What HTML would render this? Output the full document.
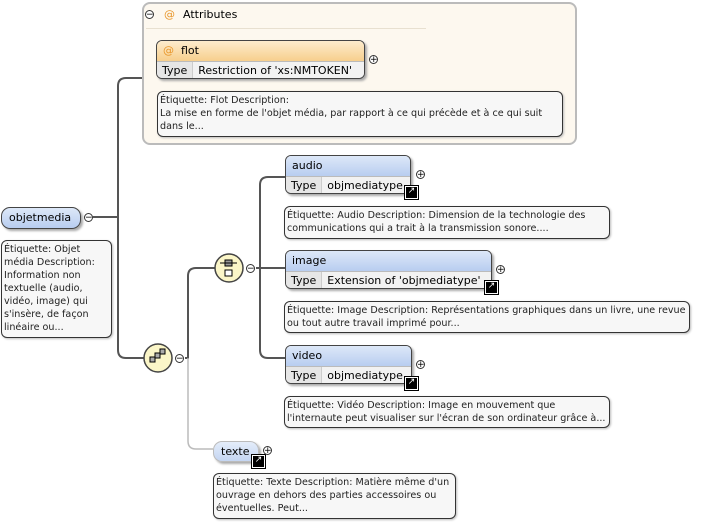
<!DOCTYPE html>
<html><head><meta charset="utf-8"><style>
body{margin:0;width:713px;height:522px;background:#fff;position:relative;overflow:hidden;font-family:"DejaVu Sans","Liberation Sans",sans-serif;font-size:11px;color:#000}
.a{position:absolute;box-sizing:border-box}
.tip{position:absolute;box-sizing:border-box;border:1px solid #333;border-radius:6px;background:#f7f7f7;font-size:9.6px;line-height:13px;padding:2px 2px;color:#222;box-shadow:1px 1px 2px #bbb}
.el{position:absolute;box-sizing:border-box;border:1px solid #444;border-radius:6px;background:#fff;overflow:hidden;box-shadow:2px 2px 2px #aaa}
.hd{height:20px;background:linear-gradient(#dde8f8,#b8cdf0);padding-left:6px;line-height:19px;border-bottom:1px solid #bbb}
.row{display:flex;height:18px;line-height:17px}
.row .k{background:#e6e6e6;padding:0 5px;border-right:1px solid #ccc}
.row .v{padding:0 5px;background:#f2f2f2;flex:1}
.pm{position:absolute;width:9px;height:9px;border:1px solid #333;border-radius:50%;background:#fff;font-size:9px;line-height:8px;text-align:center;box-sizing:border-box}
.lk{position:absolute;width:11px;height:11px;background:#000;border:1px solid #fff;outline:1px solid #000;color:#fff;font-size:9px;line-height:9px;text-align:center}
</style></head><body>
<svg class="a" style="left:0;top:0" width="713" height="522">
<g fill="none" stroke="#555" stroke-width="2">
<path d="M93 217 H118"/>
<path d="M142 78 H126 Q118 78 118 86 V350 Q118 358 126 358 H144"/>
<path d="M185 358 H188 V276 Q188 268 196 268 H215"/>
<path d="M256 268 H285"/>
<path d="M285 177 H268 Q260 177 260 185 V350 Q260 358 268 358 H285"/>
</g>
<path d="M188 358 V441 Q188 449 196 449 H213" fill="none" stroke="#bbb" stroke-width="1.5"/>
<circle cx="158" cy="358" r="14" fill="#fbf6c8" stroke="#444" stroke-width="1.5"/>
<g stroke="#000" fill="#aaa" stroke-width="1"><rect x="150" y="357" width="5" height="5"/><rect x="155" y="353" width="5" height="5"/><rect x="160" y="349" width="5" height="5"/></g>
<circle cx="229" cy="268" r="14" fill="#fbf6c8" stroke="#444" stroke-width="1.5"/>
<g stroke="#000" stroke-width="1"><rect x="225" y="260" width="7" height="6" fill="#999"/><rect x="225" y="270" width="7" height="6" fill="#fff"/><path d="M220 263 H237"/></g>
</svg>

<div class="a" style="left:142px;top:2px;width:435px;height:143px;border:2px solid #bbb;border-radius:8px;background:#fdf8ef"></div>
<div class="pm" style="left:145px;top:10px">−</div>
<div class="a" style="left:164px;top:8px;color:#e8962a">@</div>
<div class="a" style="left:183px;top:8px">Attributes</div>
<div class="a" style="left:146px;top:28px;width:280px;height:1px;background:#e8e0d0"></div>

<div class="el" style="left:156px;top:40px;width:209px;height:39px">
<div class="hd" style="background:linear-gradient(#fdeccd,#f7cf8d)"><span style="color:#e8962a">@</span>&nbsp;&nbsp;flot</div>
<div class="row"><span class="k">Type</span><span class="v">Restriction of 'xs:NMTOKEN'</span></div></div>
<div class="pm" style="left:369px;top:55px">+</div>
<div class="tip" style="left:157px;top:91px;width:406px;height:46px">Étiquette: Flot Description:<br>La mise en forme de l'objet média, par rapport à ce qui précède et à ce qui suit dans le...</div>

<div class="el" style="left:1px;top:207px;width:80px;height:22px;border-radius:9px;background:linear-gradient(#dde8f8,#b8cdf0);line-height:20px;padding-left:7px">objetmedia</div>
<div class="pm" style="left:84px;top:213px">−</div>
<div class="tip" style="left:1px;top:240px;width:111px;height:98px">Étiquette: Objet média Description: Information non textuelle (audio, vidéo, image) qui s'insère, de façon linéaire ou...</div>
<div class="pm" style="left:175px;top:354px">−</div>
<div class="pm" style="left:246px;top:264px">−</div>

<div class="el" style="left:285px;top:155px;width:126px;height:39px"><div class="hd">audio</div>
<div class="row"><span class="k">Type</span><span class="v">objmediatype</span></div></div>
<div class="lk" style="left:405px;top:186px">↗</div>
<div class="pm" style="left:416px;top:170px">+</div>
<div class="tip" style="left:284px;top:206px;width:326px;height:33px">Étiquette: Audio Description: Dimension de la technologie des communications qui a trait à la transmission sonore....</div>

<div class="el" style="left:285px;top:250px;width:207px;height:39px"><div class="hd">image</div>
<div class="row"><span class="k">Type</span><span class="v">Extension of 'objmediatype'</span></div></div>
<div class="lk" style="left:485px;top:281px">↗</div>
<div class="pm" style="left:496px;top:265px">+</div>
<div class="tip" style="left:284px;top:301px;width:406px;height:32px">Étiquette: Image Description: Représentations graphiques dans un livre, une revue ou tout autre travail imprimé pour...</div>

<div class="el" style="left:285px;top:345px;width:127px;height:39px"><div class="hd">video</div>
<div class="row"><span class="k">Type</span><span class="v">objmediatype</span></div></div>
<div class="lk" style="left:405px;top:377px">↗</div>
<div class="pm" style="left:416px;top:360px">+</div>
<div class="tip" style="left:284px;top:396px;width:326px;height:32px">Étiquette: Vidéo Description: Image en mouvement que l'internaute peut visualiser sur l'écran de son ordinateur grâce à...</div>

<div class="el" style="left:213px;top:441px;width:46px;height:21px;border-radius:9px;border-color:#bbb;background:linear-gradient(#e4edfa,#c4d5f2);line-height:19px;padding-left:7px">texte</div>
<div class="lk" style="left:252px;top:455px">↗</div>
<div class="pm" style="left:263px;top:446px">+</div>
<div class="tip" style="left:213px;top:473px;width:243px;height:46px">Étiquette: Texte Description: Matière même d'un ouvrage en dehors des parties accessoires ou éventuelles. Peut...</div>
</body></html>
